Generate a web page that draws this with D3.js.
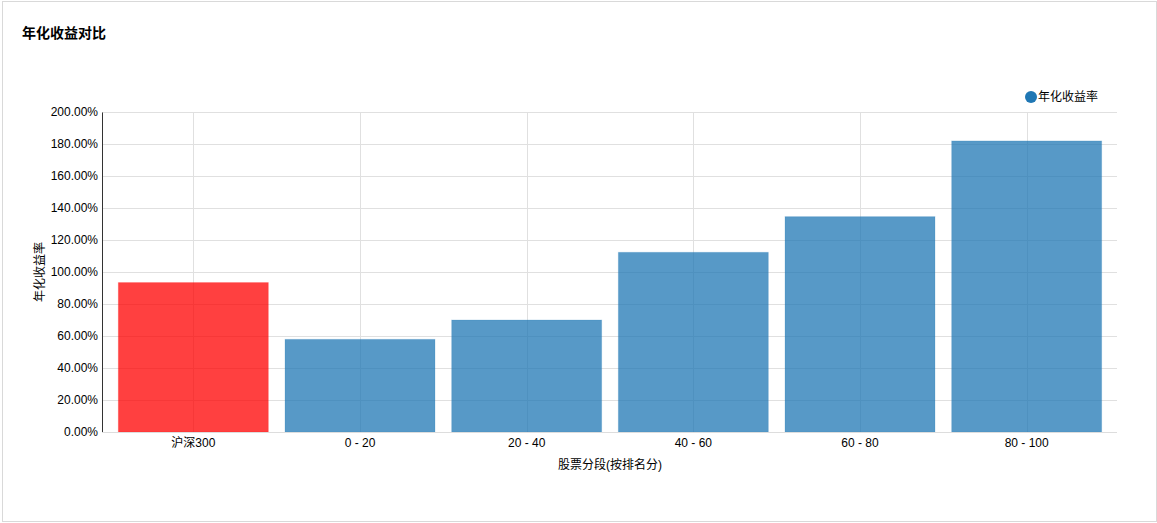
<!DOCTYPE html>
<html>
<head>
<meta charset="utf-8">
<script src="https://cdn.jsdelivr.net/npm/d3@7"></script>
<style>
  body { margin: 0; background: #fff; }
  #chart { position: absolute; left: 2px; top: 1px; width: 1153px; height: 519px; border: 1px solid #d9d9d9; }
  text { font-family: "Liberation Sans", Arial, "Noto Sans CJK SC", sans-serif; }
</style>
</head>
<body>
<div id="chart"></div>
<script>
var categories = ['沪深300', '0 - 20', '20 - 40', '40 - 60', '60 - 80', '80 - 100'];
var returns = [93.4, 57.9, 70.0, 112.3, 134.6, 181.9];
var yTicks = [0, 20, 40, 60, 80, 100, 120, 140, 160, 180, 200];

var svgWidth = 1153;
var svgHeight = 519;
var blueColor = '#1f77b4';
var redColor = '#ff0000';

var svg = d3.select('#chart')
    .append('svg')
    .attr('width', svgWidth)
    .attr('height', svgHeight)
    .style('display', 'block');

// svg is offset by the div (left 3, top 2 incl. border)
var ox = -3, oy = -2;
var plotLeft = 102 + ox, plotRight = 1117 + ox, plotTop = 112 + oy, plotBottom = 432 + oy;

var x = d3.scaleBand()
    .domain(categories)
    .range([110 + ox, 1110 + ox])
    .paddingInner(0.1)
    .paddingOuter(0.05);

var y = d3.scaleLinear()
    .domain([0, 200])
    .range([plotBottom, plotTop]);

// title
svg.append('text')
    .attr('x', 22 + ox)
    .attr('y', 38 + oy)
    .text('年化收益对比')
    .attr('fill', '#000')
    .attr('font-size', '14px')
    .attr('font-weight', 'bold');

// horizontal grid
svg.append('g')
    .selectAll('line')
    .data(yTicks)
    .enter()
    .append('line')
    .attr('x1', plotLeft)
    .attr('x2', plotRight)
    .attr('y1', function(d) { return y(d) + 0.5; })
    .attr('y2', function(d) { return y(d) + 0.5; })
    .attr('stroke', '#e0e0e0');

// vertical grid
svg.append('g')
    .selectAll('line')
    .data(categories)
    .enter()
    .append('line')
    .attr('x1', function(d) { return Math.round(x(d) + x.bandwidth() / 2) + 0.5; })
    .attr('x2', function(d) { return Math.round(x(d) + x.bandwidth() / 2) + 0.5; })
    .attr('y1', plotTop)
    .attr('y2', plotBottom)
    .attr('stroke', '#e0e0e0');

// bars
svg.append('g')
    .selectAll('rect')
    .data(returns)
    .enter()
    .append('rect')
    .attr('x', function(d, i) { return x(categories[i]); })
    .attr('y', function(d) { return y(d); })
    .attr('width', x.bandwidth())
    .attr('height', function(d) { return plotBottom - y(d); })
    .attr('fill', function(d, i) { return i === 0 ? redColor : blueColor; })
    .attr('fill-opacity', 0.75)
    .attr('stroke', function(d, i) { return i === 0 ? redColor : blueColor; })
    .attr('stroke-opacity', 0.2);

// y axis
var yAxis = svg.append('g')
    .attr('transform', 'translate(' + plotLeft + ',0)')
    .call(d3.axisLeft(y).tickValues(yTicks).tickSize(0).tickPadding(4)
        .tickFormat(function(d) { return d.toFixed(2) + '%'; }));
yAxis.select('.domain').attr('stroke', '#333');
yAxis.selectAll('text').attr('font-size', '12px').attr('fill', '#000').attr('font-family', null);

// x axis
var xAxis = svg.append('g')
    .attr('transform', 'translate(0,' + plotBottom + ')')
    .call(d3.axisBottom(x).tickSize(0).tickPadding(6));
xAxis.select('.domain').attr('d', 'M' + plotLeft + ',0.5H' + plotRight).attr('stroke', '#ddd');
xAxis.selectAll('text').attr('font-size', '12px').attr('fill', '#000').attr('font-family', null);

// axis titles
svg.append('text')
    .attr('transform', 'translate(' + (44 + ox) + ',' + (272 + oy) + ') rotate(-90)')
    .attr('text-anchor', 'middle')
    .text('年化收益率')
    .attr('font-size', '12px')
    .attr('fill', '#000');

svg.append('text')
    .attr('x', 610 + ox)
    .attr('y', 469 + oy)
    .attr('text-anchor', 'middle')
    .text('股票分段(按排名分)')
    .attr('font-size', '12px')
    .attr('fill', '#000');

// legend
svg.append('circle')
    .attr('cx', 1031 + ox)
    .attr('cy', 97 + oy)
    .attr('r', 6)
    .attr('fill', blueColor);

svg.append('text')
    .attr('x', 1038 + ox)
    .attr('y', 101 + oy)
    .text('年化收益率')
    .attr('font-size', '12px')
    .attr('fill', '#000');
</script>
</body>
</html>
